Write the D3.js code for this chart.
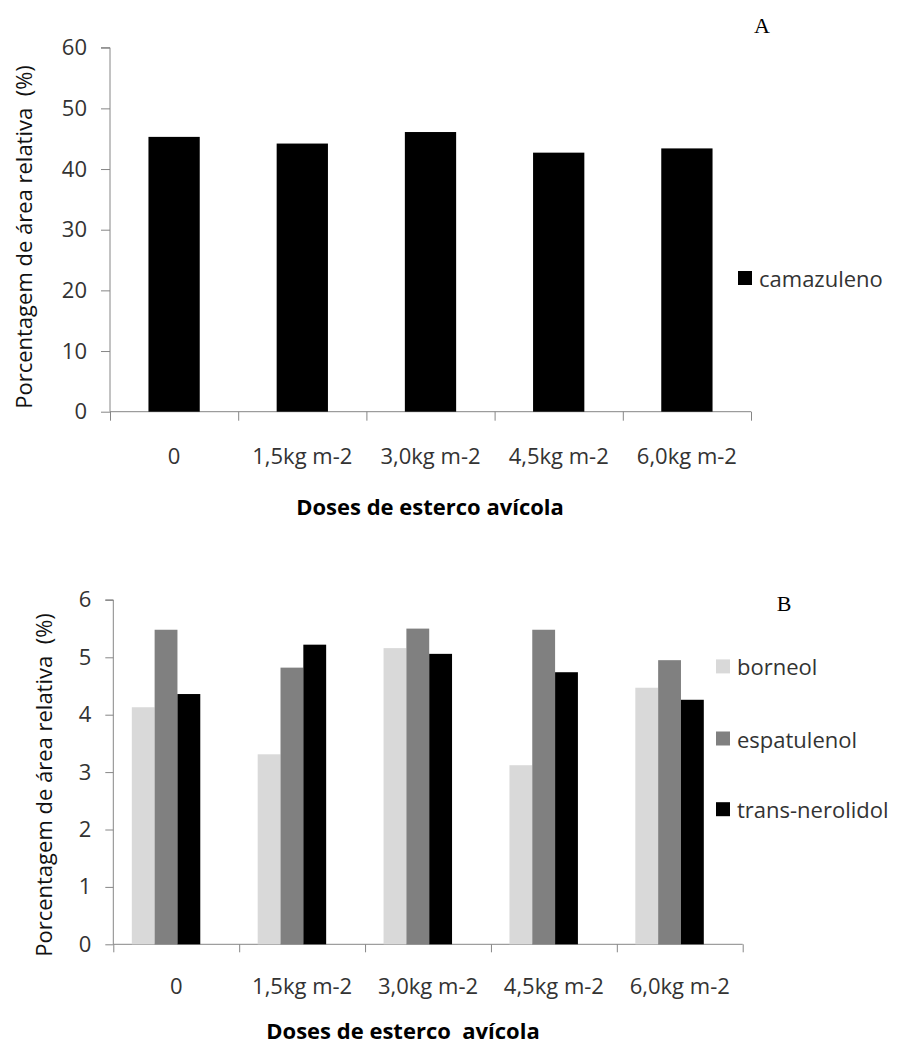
<!DOCTYPE html>
<html>
<head>
<meta charset="utf-8">
<script src="https://cdn.jsdelivr.net/npm/d3@7"></script>
<style>
  html, body { margin: 0; padding: 0; background: #fff; }
  svg { display: block; }
  text { font-family: "Open Sans", "Noto Sans", sans-serif; }
</style>
</head>
<body>
<svg id="fig" width="897" height="1046"></svg>
<script>
// Doses of poultry manure (x categories)
const doses = ["0", "1,5kg m-2", "3,0kg m-2", "4,5kg m-2", "6,0kg m-2"];

// Panel A: chamazulene relative area (%)
const seriesA = ["camazuleno"];
const camazuleno = [45.3, 44.2, 46.1, 42.7, 43.4];
const ticksA = [0, 10, 20, 30, 40, 50, 60];

// Panel B: minor constituents relative area (%)
const seriesB = ["borneol", "espatulenol", "trans-nerolidol"];
const borneol = [4.13, 3.31, 5.16, 3.12, 4.47];
const espatulenol = [5.48, 4.82, 5.50, 5.48, 4.95];
const transNerolidol = [4.36, 5.22, 5.06, 4.74, 4.26];
const ticksB = [0, 1, 2, 3, 4, 5, 6];

const yTitle = "Porcentagem de área relativa  (%)";
const xTitleA = "Doses de esterco avícola";
const xTitleB = "Doses de esterco  avícola";

const svg = d3.select("#fig");
const AXIS = "#868686";
const LABEL = "#333333";

function panel(opt) {
  const g = svg.append("g");
  const y = d3.scaleLinear().domain([0, opt.yMax]).range([opt.bottom, opt.top]);

  // category bands (used for tick labels)
  const xCat = d3.scaleBand().domain(doses).range([opt.left, opt.right]);

  // y axis
  const yAxis = d3.axisLeft(y).tickValues(opt.ticks).tickSize(opt.tickLen).tickPadding(opt.yPad).tickFormat(d3.format("d"));
  const ya = g.append("g").attr("transform", `translate(${opt.left},0)`).call(yAxis);
  ya.select(".domain").attr("stroke", AXIS).attr("d", `M${-opt.tickLen},${opt.top}H0V${opt.bottom}`);
  ya.selectAll(".tick line").attr("stroke", AXIS);
  ya.selectAll(".tick text").attr("fill", LABEL).style("font-size", opt.fs + "px").style("font-family", "Open Sans");

  // x axis: tick marks at the boundaries between categories
  const bound = d3.scaleLinear().domain([0, doses.length]).range([opt.left, opt.right]);
  const xAxis = d3.axisBottom(bound).tickValues(d3.range(doses.length + 1)).tickSize(opt.tickLen).tickFormat("");
  const xa = g.append("g").attr("transform", `translate(0,${opt.bottom})`).call(xAxis);
  xa.select(".domain").attr("stroke", AXIS).attr("d", `M${opt.left},0H${opt.right}`);
  xa.selectAll(".tick line").attr("stroke", AXIS);

  // category labels
  g.append("g").selectAll("text").data(doses).join("text")
    .attr("x", d => xCat(d) + xCat.bandwidth() / 2)
    .attr("y", opt.bottom + opt.xLabOff)
    .attr("text-anchor", "middle")
    .attr("dominant-baseline", "central")
    .attr("fill", LABEL)
    .style("font-size", opt.fs + "px")
    .text(d => d);

  // bars
  const xg = d3.scaleBand().domain(doses)
    .range([opt.left + opt.shift, opt.right + opt.shift])
    .paddingInner(opt.padIn).paddingOuter(opt.padIn / 2);
  const xs = d3.scaleBand().domain(opt.series).range([0, xg.bandwidth()]);
  const rows = doses.map((d, i) => ({ dose: d, vals: opt.series.map((s, k) => ({ s, v: opt.values[k][i] })) }));
  g.append("g").selectAll("g").data(rows).join("g")
    .attr("transform", d => `translate(${xg(d.dose)},0)`)
    .selectAll("rect").data(d => d.vals).join("rect")
      .attr("x", d => xs(d.s))
      .attr("width", xs.bandwidth())
      .attr("y", d => y(d.v))
      .attr("height", d => y(0) - y(d.v))
      .attr("fill", d => opt.colors[opt.series.indexOf(d.s)]);

  // y title
  g.append("text")
    .attr("transform", `translate(${opt.yTitleX},${opt.yTitleY}) rotate(-90)`)
    .attr("text-anchor", "middle")
    .attr("dominant-baseline", "central")
    .attr("fill", "#111")
    .style("font-size", opt.yTitleFs + "px")
    .style("white-space", "pre")
    .text(yTitle);

  // x title
  g.append("text")
    .attr("x", opt.xTitleX)
    .attr("y", opt.xTitleY)
    .attr("text-anchor", "middle")
    .attr("dominant-baseline", "central")
    .attr("fill", "#000")
    .style("font-size", opt.xTitleFs + "px")
    .style("font-weight", "bold")
    .style("white-space", "pre")
    .text(opt.xTitle);

  // legend
  const lg = g.append("g").selectAll("g").data(opt.series).join("g")
    .attr("transform", (d, i) => `translate(${opt.legX},${opt.legY[i]})`);
  lg.append("rect").attr("x", 0).attr("y", -7).attr("width", 14).attr("height", 14)
    .attr("fill", (d, i) => opt.colors[i]);
  lg.append("text").attr("x", 21).attr("y", 0)
    .attr("dominant-baseline", "central")
    .attr("fill", LABEL)
    .style("font-size", opt.fs + "px")
    .text(d => d);

  // panel letter
  g.append("text")
    .attr("x", opt.tagX).attr("y", opt.tagY)
    .attr("text-anchor", "middle")
    .attr("dominant-baseline", "central")
    .attr("fill", "#000")
    .style("font-family", "'Liberation Serif', 'DejaVu Serif', serif")
    .style("font-size", "22px")
    .text(opt.tag);
}

panel({
  series: seriesA, values: [camazuleno], colors: ["#000000"],
  yMax: 60, ticks: ticksA,
  left: 110, right: 751, top: 47.7, bottom: 411.7,
  tickLen: 9, yPad: 14, fs: 22, yTitleFs: 22, xTitleFs: 22,
  xLabOff: 43, padIn: 0.6, shift: 0,
  yTitleX: 23, yTitleY: 237,
  xTitle: xTitleA, xTitleX: 430, xTitleY: 506,
  legX: 738, legY: [278],
  tag: "A", tagX: 762, tagY: 25
});

panel({
  series: seriesB, values: [borneol, espatulenol, transNerolidol],
  colors: ["#d9d9d9", "#808080", "#000000"],
  yMax: 6, ticks: ticksB,
  left: 113.3, right: 742.7, top: 599.9, bottom: 944.3,
  tickLen: 8, yPad: 14, fs: 22, yTitleFs: 22, xTitleFs: 22,
  xLabOff: 41, padIn: 0.456, shift: -10.2,
  yTitleX: 42.5, yTitleY: 785,
  xTitle: xTitleB, xTitleX: 403, xTitleY: 1030,
  legX: 716, legY: [666.4, 738.5, 809.2],
  tag: "B", tagX: 784, tagY: 603
});
</script>
</body>
</html>
